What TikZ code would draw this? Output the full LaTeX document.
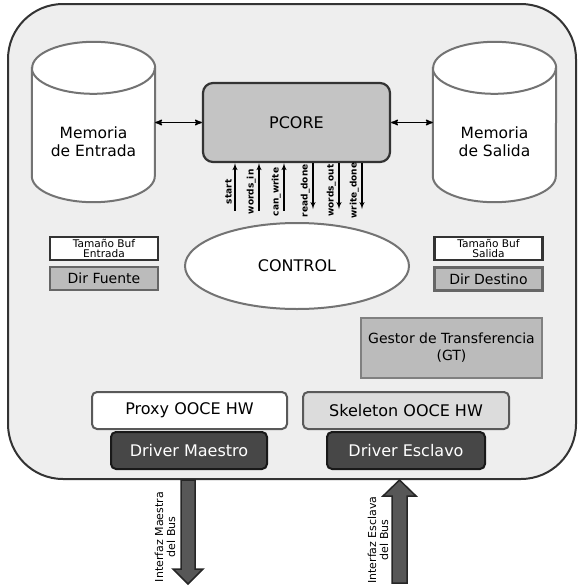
\documentclass[tikz,border=0pt]{standalone}
\usepackage{fontspec}
\setmainfont{DejaVu Sans}
\usepackage{tikz}
\usetikzlibrary{shapes,arrows}
\definecolor{boardfill}{HTML}{EEEEEE}
\definecolor{coregray}{HTML}{C4C4C4}
\definecolor{dirgray}{HTML}{BBBBBB}
\definecolor{skelgray}{HTML}{DCDCDC}
\definecolor{drivergray}{HTML}{474747}
\definecolor{busgray}{HTML}{575757}
\tikzstyle{board} = [draw=black!80, fill=boardfill, line width=2pt, rounded corners=55pt, inner sep=0pt, minimum width=568pt, minimum height=475pt]
\tikzstyle{membody} = [inner sep=0pt, minimum width=123pt, minimum height=108pt]
\tikzstyle{memline} = [draw=black!55, fill=white, line width=2pt]
\tikzstyle{memtext} = [align=center, font=\fontsize{15.5}{18}\selectfont]
\tikzstyle{core} = [draw=black!80, fill=coregray, line width=2.2pt, rounded corners=10pt, minimum width=187pt, minimum height=79pt, font=\fontsize{16}{18}\selectfont]
\tikzstyle{ctrl} = [draw=black!55, fill=white, line width=2pt, ellipse, minimum width=224pt, minimum height=86pt, font=\fontsize{16}{18}\selectfont]
\tikzstyle{bufsize} = [draw=black!80, fill=white, line width=2.5pt, minimum width=108pt, minimum height=23pt, inner sep=0pt, align=center, font=\fontsize{10.6}{9.5}\selectfont]
\tikzstyle{dir} = [draw=black!60, fill=dirgray, line width=2.5pt, minimum width=108pt, minimum height=23pt, inner sep=0pt, font=\fontsize{14}{16}\selectfont]
\tikzstyle{gt} = [draw=black!50, fill=dirgray, line width=2.5pt, minimum width=181pt, minimum height=60pt, inner sep=0pt, align=center, font=\fontsize{14}{17}\selectfont]
\tikzstyle{ooce} = [draw=black!65, line width=2pt, rounded corners=5pt, minimum height=37pt, inner sep=0pt, font=\fontsize{16}{18}\selectfont]
\tikzstyle{driver} = [draw=black!90, fill=drivergray, text=white, line width=2pt, rounded corners=5pt, minimum height=37pt, inner sep=0pt, font=\fontsize{16}{18}\selectfont]
\tikzstyle{signal} = [line width=1.4pt, font=\bfseries\fontsize{9}{10}\selectfont]
\tikzstyle{bus} = [draw=black!85, fill=busgray, line width=1.5pt]
\tikzstyle{buslabel} = [rotate=90, align=center, inner sep=0pt, font=\fontsize{11}{12}\selectfont]

\begin{document}
\begin{tikzpicture}[x=1pt, y=-1pt, >=latex']
    \useasboundingbox (0,0) rectangle (579,587);
    % Drawing blocks
    \node [board] (board) at (292,241.5) {};
    \node [membody] (memin) at (93.5,122) {};
    \node [membody] (memout) at (494.5,122) {};
    \foreach \mem in {memin, memout}
        \draw [memline] (\mem.north west) -- (\mem.south west)
            arc[start angle=180, end angle=360, x radius=61.5pt, y radius=26pt]
            -- (\mem.north east)
            arc[start angle=0, end angle=180, x radius=61.5pt, y radius=26pt]
            -- cycle
            (\mem.north west) arc[start angle=180, end angle=360, x radius=61.5pt, y radius=26pt];
    \node [memtext] (memintext) at (93.5,142) {Memoria\\de Entrada};
    \node [memtext] (memouttext) at (494.5,142) {Memoria\\de Salida};
    \node [core] (pcore) at (296.5,122.5) {PCORE};
    \node [ctrl] (control) at (297,266) {CONTROL};
    \node [bufsize] (bufin) at (104,248.5) {Tamaño Buf\\Entrada};
    \node [dir] (source) at (104,278.5) {Dir Fuente};
    \node [bufsize] (bufout) at (488.5,248.5) {Tamaño Buf\\Salida};
    \node [dir] (target) at (488.5,279) {Dir Destino};
    \node [gt] (gt) at (451.5,348) {Gestor de Transferencia\\(GT)};
    \node [ooce, fill=white, minimum width=195pt] (proxy) at (189.5,410.5) {Proxy OOCE HW};
    \node [ooce, fill=skelgray, minimum width=206pt] (skel) at (406,410.5) {Skeleton OOCE HW};
    \node [driver, minimum width=156pt] (master) at (189,450.5) {Driver Maestro};
    \node [driver, minimum width=158pt] (slave) at (406,450.5) {Driver Esclavo};

    % Connectors
    \draw [<->, >=stealth', line width=1.4pt] (pcore.west -| memin.east) -- (pcore.west);
    \draw [<->, >=stealth', line width=1.4pt] (pcore.east) -- (pcore.east -| memout.west);
    \foreach \dx/\sig in {-61.5/start, -37.5/words\_in, -12.5/can\_write}
        \draw [signal, <-] ([xshift=\dx pt]pcore.south) -- ++(0,48)
            node [pos=0.6, rotate=90, anchor=south, inner sep=2.5pt] {\sig};
    \foreach \dx/\sig in {16.5/read\_done, 42.5/words\_out, 65.5/write\_done}
        \draw [signal, ->] ([xshift=\dx pt]pcore.south) -- ++(0,46)
            node [pos=0.6, rotate=90, anchor=south, inner sep=2.5pt] {\sig};

    % Bus interfaces
    \coordinate (busm) at (board.south -| 188,0);
    \coordinate (buse) at (board.south -| 399.5,0);
    \draw [bus] (busm) ++(-7,0) -- ++(0,89) -- ++(-8,0) -- ++(15,15) -- ++(15,-15)
        -- ++(-8,0) -- ++(0,-89) -- cycle;
    \draw [bus] (buse) -- ++(16.5,16) -- ++(-9,0) -- ++(0,87) -- ++(-15,0)
        -- ++(0,-87) -- ++(-9,0) -- cycle;
    \node [buslabel] (buslabm) at (165,537) {Interfaz Maestra\\del Bus};
    \node [buslabel] (buslabe) at (378,540) {Interfaz Esclava\\del Bus};
\end{tikzpicture}
\end{document}
